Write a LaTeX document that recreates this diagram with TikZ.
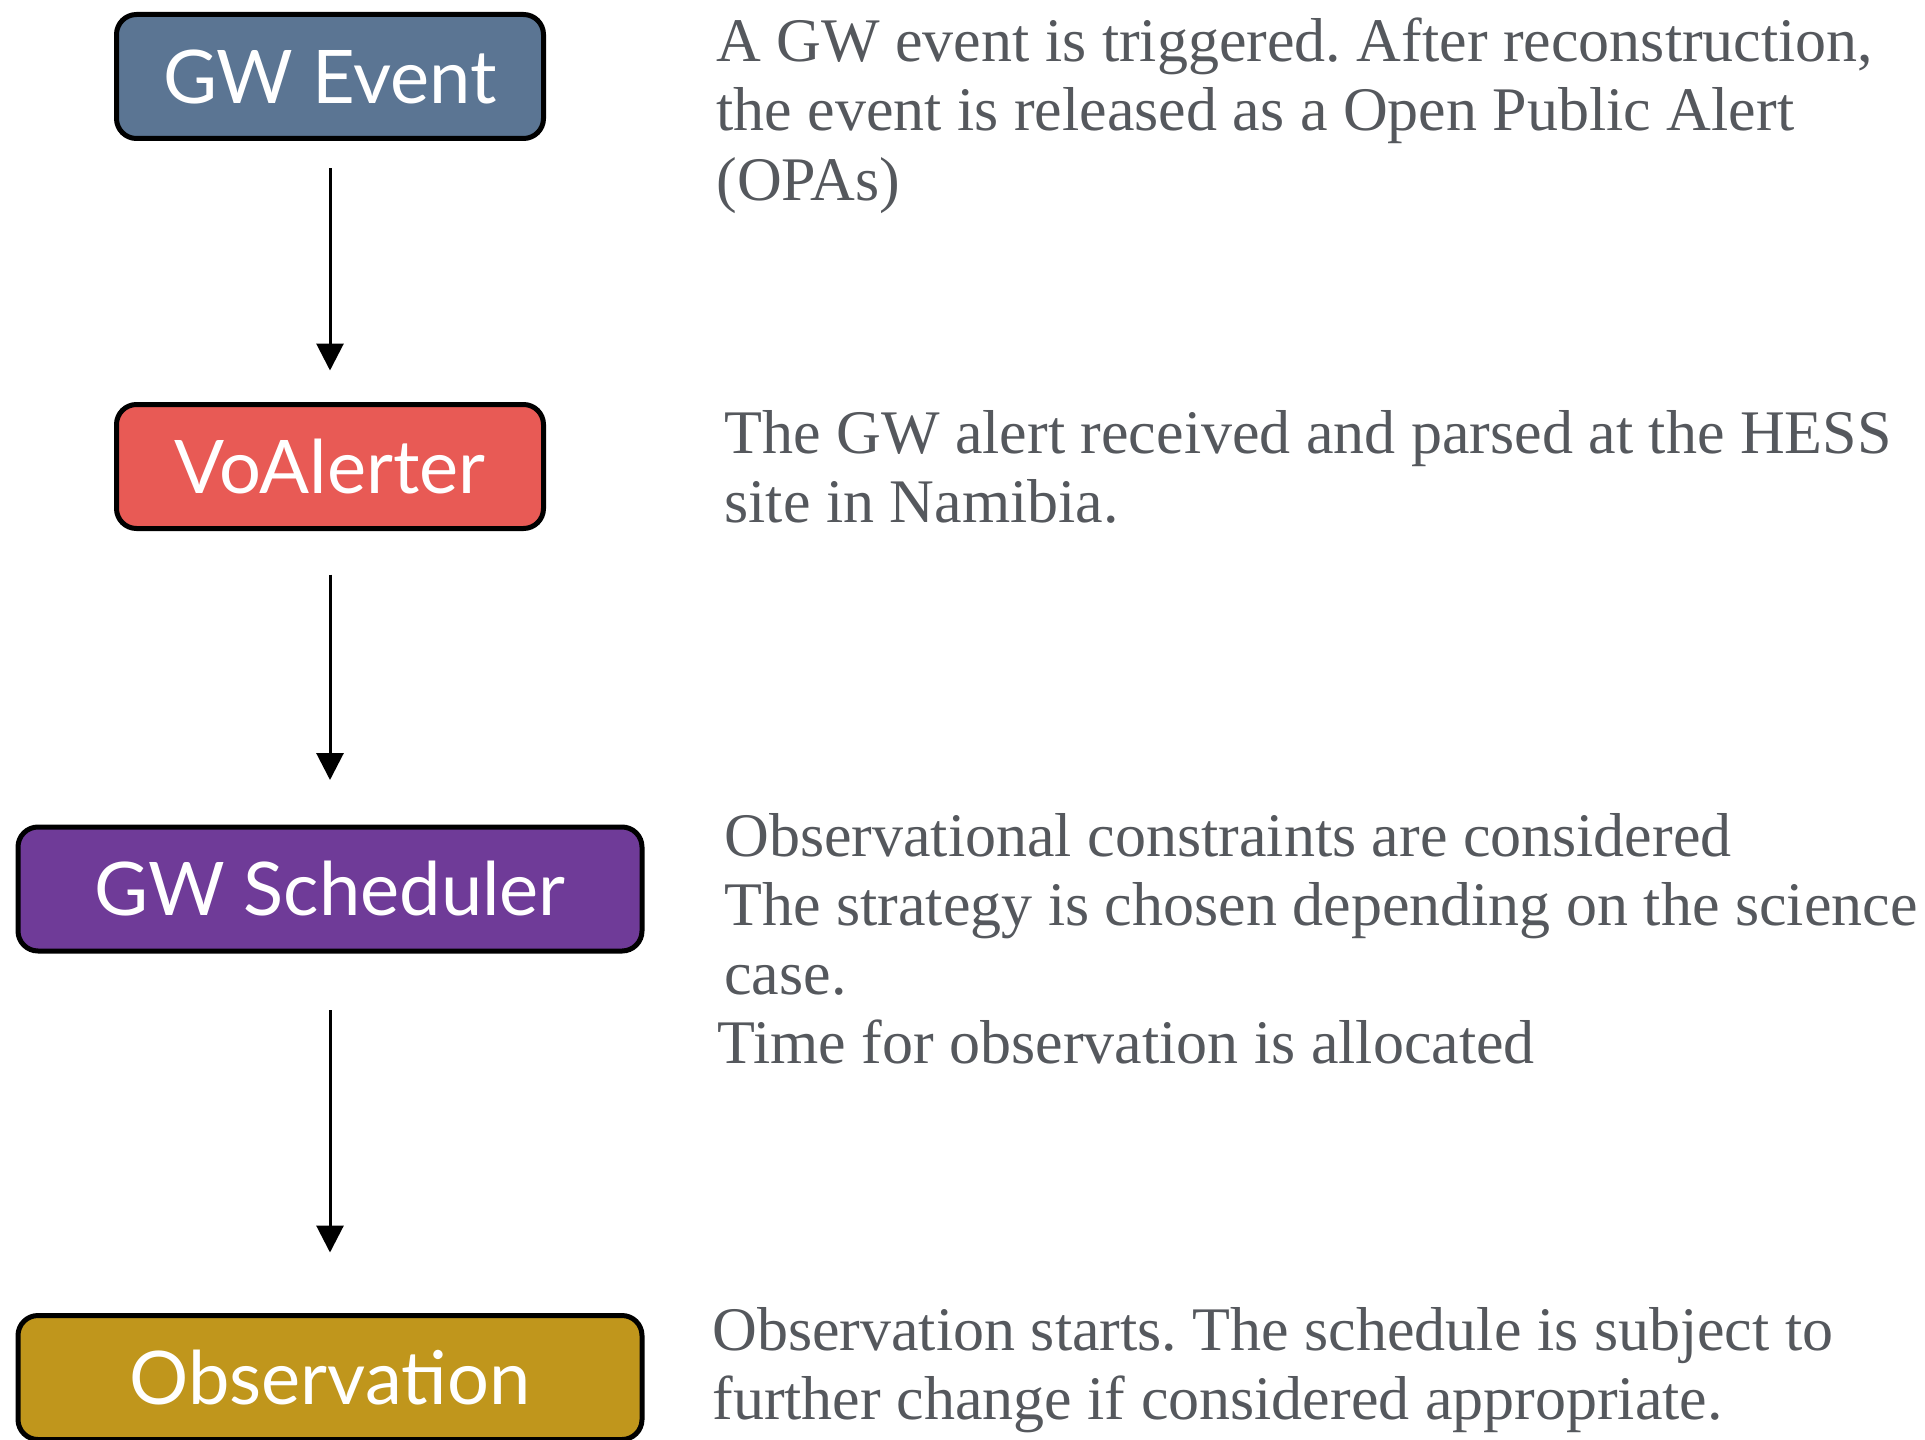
\documentclass[tikz,border=0pt]{standalone}
\usepackage{fontspec}
\setmainfont{Liberation Serif}
\newfontfamily\boxfont{Lato}
\usetikzlibrary{arrows.meta}
\definecolor{gwblue}{HTML}{5B7593}
\definecolor{vored}{HTML}{E85A55}
\definecolor{schpurple}{HTML}{6F3B98}
\definecolor{obsgold}{HTML}{C0961C}
\definecolor{txtgray}{HTML}{55585D}
\frenchspacing
\begin{document}
\begin{tikzpicture}[x=0.5pt,y=-0.5pt,
  box/.style={draw=black, line width=2.5pt, rounded corners=10pt, minimum height=62pt,
    inner sep=0pt, text=white, font=\boxfont\fontsize{37}{44}\selectfont},
  desc/.style={anchor=base west, inner sep=0pt, align=left, text=txtgray,
    font=\fontsize{31}{34.5}\selectfont},
  flow/.style={line width=1.5pt, -{Triangle[width=13.5pt,length=13.5pt]}}]
\useasboundingbox (0,0) rectangle (1925,1439);
\node[box, fill=gwblue, minimum width=213.5pt] (bx0) at (330,76.5){GW Event};
\node[box, fill=vored, minimum width=213.5pt] (bx1) at (330,466.5){VoAlerter};
\node[box, fill=schpurple, minimum width=312pt] (bx2) at (330,889){GW Scheduler};
\node[box, fill=obsgold, minimum width=312pt] (bx3) at (330,1377.5){Observation};
\draw[flow, shorten <=13.75pt, shorten >=15.75pt](bx0) -- (bx1);
\draw[flow, shorten <=21.75pt, shorten >=22.25pt](bx1) -- (bx2);
\draw[flow, shorten <=28.25pt, shorten >=30.25pt](bx2) -- (bx3);

% base anchor = last line
\node[desc] (tx0) at (716,200){A GW event is triggered. After reconstruction,\\
  the event is released as a Open Public Alert\\ (OPAs)};
\node[desc] (tx1) at (724,522){The GW alert received and parsed at the HESS\\ site in Namibia.};
\node[desc] (tx2) at (724,1063){Observational constraints are considered\\
  The strategy is chosen depending on the science\\ case.\\
  \hspace{-3.5pt}Time for observation is allocated};
\node[desc] (tx3) at (712,1419){Observation starts. The schedule is subject to\\
  further change if considered appropriate.};

\end{tikzpicture}
\end{document}
